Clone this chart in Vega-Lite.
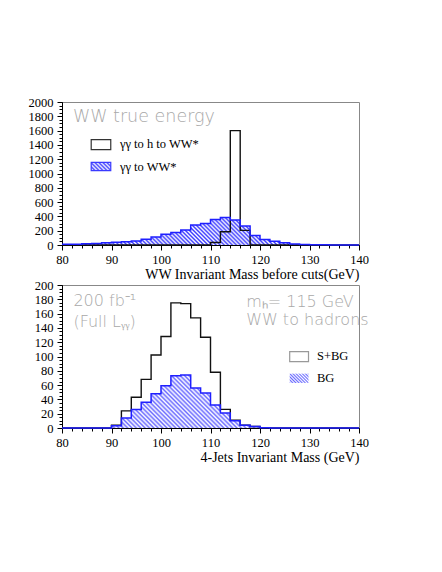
{
  "$schema": "https://vega.github.io/schema/vega-lite/v6.json",
  "padding": {"left": 27, "top": 95, "right": 5, "bottom": 5},
  "background": "white",
  "spacing": -4,
  "config": {
    "view": {"stroke": "#888", "strokeWidth": 1},
    "axis": {"grid": false, "labelFlush": false, "labelOverlap": false, "domainColor": "#000", "tickColor": "#000", "labelColor": "#000", "labelFont": "Liberation Serif", "labelFontSize": 12.5, "titleFont": "Liberation Serif", "titleFontSize": 14, "titleFontWeight": "normal", "titleColor": "#000"}
  },
  "datasets": {
    "top_bg": [{"m":80,"n":12},{"m":82,"n":12},{"m":84,"n":18},{"m":86,"n":20},{"m":88,"n":30},{"m":90,"n":40},{"m":92,"n":45},{"m":94,"n":56},{"m":96,"n":80},{"m":98,"n":112},{"m":100,"n":152},{"m":102,"n":175},{"m":104,"n":210},{"m":106,"n":280},{"m":108,"n":302},{"m":110,"n":355},{"m":112,"n":385},{"m":114,"n":350},{"m":116,"n":265},{"m":118,"n":132},{"m":120,"n":78},{"m":122,"n":52},{"m":124,"n":30},{"m":126,"n":15},{"m":128,"n":7},{"m":130,"n":4},{"m":132,"n":2},{"m":134,"n":0},{"m":136,"n":0},{"m":138,"n":0},{"m":140,"n":0}],
    "top_sig": [{"m":80,"n":0},{"m":82,"n":0},{"m":84,"n":0},{"m":86,"n":0},{"m":88,"n":0},{"m":90,"n":0},{"m":92,"n":0},{"m":94,"n":0},{"m":96,"n":0},{"m":98,"n":0},{"m":100,"n":0},{"m":102,"n":0},{"m":104,"n":0},{"m":106,"n":0},{"m":108,"n":0},{"m":110,"n":35},{"m":112,"n":185},{"m":114,"n":1600},{"m":116,"n":205},{"m":118,"n":0},{"m":120,"n":0},{"m":122,"n":0},{"m":124,"n":0},{"m":126,"n":0},{"m":128,"n":0},{"m":130,"n":0},{"m":132,"n":0},{"m":134,"n":0},{"m":136,"n":0},{"m":138,"n":0},{"m":140,"n":0}],
    "bot_sbg": [{"m":80,"n":0},{"m":82,"n":0},{"m":84,"n":0},{"m":86,"n":0},{"m":88,"n":0},{"m":90,"n":4},{"m":92,"n":24},{"m":94,"n":43},{"m":96,"n":68},{"m":98,"n":102},{"m":100,"n":128},{"m":102,"n":175},{"m":104,"n":174},{"m":106,"n":154},{"m":108,"n":127},{"m":110,"n":78},{"m":112,"n":26},{"m":114,"n":11},{"m":116,"n":4},{"m":118,"n":2},{"m":120,"n":0.5},{"m":122,"n":0},{"m":124,"n":0},{"m":126,"n":0},{"m":128,"n":0},{"m":130,"n":0},{"m":132,"n":0},{"m":134,"n":0},{"m":136,"n":0},{"m":138,"n":0},{"m":140,"n":0}],
    "bot_bg": [{"m":80,"n":0},{"m":82,"n":0},{"m":84,"n":0},{"m":86,"n":0},{"m":88,"n":0},{"m":90,"n":3},{"m":92,"n":14},{"m":94,"n":26},{"m":96,"n":36},{"m":98,"n":48},{"m":100,"n":59},{"m":102,"n":73},{"m":104,"n":74},{"m":106,"n":56},{"m":108,"n":49},{"m":110,"n":32},{"m":112,"n":21},{"m":114,"n":10},{"m":116,"n":4},{"m":118,"n":2},{"m":120,"n":0.5},{"m":122,"n":0},{"m":124,"n":0},{"m":126,"n":0},{"m":128,"n":0},{"m":130,"n":0},{"m":132,"n":0},{"m":134,"n":0},{"m":136,"n":0},{"m":138,"n":0},{"m":140,"n":0}],
    "top_leg": [{"k":"sig","x":85.9,"x2":89.85,"y":1333,"y2":1473},{"k":"bg","x":85.9,"x2":89.85,"y":1039,"y2":1155}],
    "top_lab": [{"x":91.7,"y":1357,"t":"γγ to h to WW*"},{"x":91.7,"y":1039,"t":"γγ to WW*"}],
    "top_ann": [{"x":82.2,"y":1724,"t":"WW true energy"}],
    "bot_leg": [{"k":"sbg","x":126,"x2":129.8,"y":92.9,"y2":106.9},{"k":"bg","x":126,"x2":129.8,"y":63,"y2":76}],
    "bot_lab": [{"x":131.5,"y":95,"t":"S+BG"},{"x":131.5,"y":65,"t":"BG"}],
    "bot_ann": [{"x":82.3,"y":170.6,"t":"200 fb⁻¹"},{"x":82.3,"y":141,"t":"(Full Lᵧᵧ)"},{"x":117.2,"y":169,"t":"mₕ= 115 GeV"},{"x":117.2,"y":144,"t":"WW to hadrons"}]
  },
  "vconcat": [
    {
      "width": 297, "height": 143,
      "resolve": {"axis": {"x": "independent", "y": "independent"}},
      "layer": [
        {
          "data": {"name": "top_bg"},
          "mark": {"type": "area", "interpolate": "step-after", "fill": {"gradient": "linear", "x1": 0, "y1": 1, "x2": 1.0833, "y2": 0.8997, "stops": [
            {"offset":0,"color":"#3a3aff"},{"offset":0.00625,"color":"#fff"},{"offset":0.0125,"color":"#3a3aff"},{"offset":0.01875,"color":"#fff"},{"offset":0.025,"color":"#3a3aff"},{"offset":0.03125,"color":"#fff"},{"offset":0.0375,"color":"#3a3aff"},{"offset":0.04375,"color":"#fff"},{"offset":0.05,"color":"#3a3aff"},{"offset":0.05625,"color":"#fff"},{"offset":0.0625,"color":"#3a3aff"},{"offset":0.06875,"color":"#fff"},{"offset":0.075,"color":"#3a3aff"},{"offset":0.08125,"color":"#fff"},{"offset":0.0875,"color":"#3a3aff"},{"offset":0.09375,"color":"#fff"},
            {"offset":0.1,"color":"#3a3aff"},{"offset":0.10625,"color":"#fff"},{"offset":0.1125,"color":"#3a3aff"},{"offset":0.11875,"color":"#fff"},{"offset":0.125,"color":"#3a3aff"},{"offset":0.13125,"color":"#fff"},{"offset":0.1375,"color":"#3a3aff"},{"offset":0.14375,"color":"#fff"},{"offset":0.15,"color":"#3a3aff"},{"offset":0.15625,"color":"#fff"},{"offset":0.1625,"color":"#3a3aff"},{"offset":0.16875,"color":"#fff"},{"offset":0.175,"color":"#3a3aff"},{"offset":0.18125,"color":"#fff"},{"offset":0.1875,"color":"#3a3aff"},{"offset":0.19375,"color":"#fff"},
            {"offset":0.2,"color":"#3a3aff"},{"offset":0.20625,"color":"#fff"},{"offset":0.2125,"color":"#3a3aff"},{"offset":0.21875,"color":"#fff"},{"offset":0.225,"color":"#3a3aff"},{"offset":0.23125,"color":"#fff"},{"offset":0.2375,"color":"#3a3aff"},{"offset":0.24375,"color":"#fff"},{"offset":0.25,"color":"#3a3aff"},{"offset":0.25625,"color":"#fff"},{"offset":0.2625,"color":"#3a3aff"},{"offset":0.26875,"color":"#fff"},{"offset":0.275,"color":"#3a3aff"},{"offset":0.28125,"color":"#fff"},{"offset":0.2875,"color":"#3a3aff"},{"offset":0.29375,"color":"#fff"},
            {"offset":0.3,"color":"#3a3aff"},{"offset":0.30625,"color":"#fff"},{"offset":0.3125,"color":"#3a3aff"},{"offset":0.31875,"color":"#fff"},{"offset":0.325,"color":"#3a3aff"},{"offset":0.33125,"color":"#fff"},{"offset":0.3375,"color":"#3a3aff"},{"offset":0.34375,"color":"#fff"},{"offset":0.35,"color":"#3a3aff"},{"offset":0.35625,"color":"#fff"},{"offset":0.3625,"color":"#3a3aff"},{"offset":0.36875,"color":"#fff"},{"offset":0.375,"color":"#3a3aff"},{"offset":0.38125,"color":"#fff"},{"offset":0.3875,"color":"#3a3aff"},{"offset":0.39375,"color":"#fff"},
            {"offset":0.4,"color":"#3a3aff"},{"offset":0.40625,"color":"#fff"},{"offset":0.4125,"color":"#3a3aff"},{"offset":0.41875,"color":"#fff"},{"offset":0.425,"color":"#3a3aff"},{"offset":0.43125,"color":"#fff"},{"offset":0.4375,"color":"#3a3aff"},{"offset":0.44375,"color":"#fff"},{"offset":0.45,"color":"#3a3aff"},{"offset":0.45625,"color":"#fff"},{"offset":0.4625,"color":"#3a3aff"},{"offset":0.46875,"color":"#fff"},{"offset":0.475,"color":"#3a3aff"},{"offset":0.48125,"color":"#fff"},{"offset":0.4875,"color":"#3a3aff"},{"offset":0.49375,"color":"#fff"},
            {"offset":0.5,"color":"#3a3aff"},{"offset":0.50625,"color":"#fff"},{"offset":0.5125,"color":"#3a3aff"},{"offset":0.51875,"color":"#fff"},{"offset":0.525,"color":"#3a3aff"},{"offset":0.53125,"color":"#fff"},{"offset":0.5375,"color":"#3a3aff"},{"offset":0.54375,"color":"#fff"},{"offset":0.55,"color":"#3a3aff"},{"offset":0.55625,"color":"#fff"},{"offset":0.5625,"color":"#3a3aff"},{"offset":0.56875,"color":"#fff"},{"offset":0.575,"color":"#3a3aff"},{"offset":0.58125,"color":"#fff"},{"offset":0.5875,"color":"#3a3aff"},{"offset":0.59375,"color":"#fff"},
            {"offset":0.6,"color":"#3a3aff"},{"offset":0.60625,"color":"#fff"},{"offset":0.6125,"color":"#3a3aff"},{"offset":0.61875,"color":"#fff"},{"offset":0.625,"color":"#3a3aff"},{"offset":0.63125,"color":"#fff"},{"offset":0.6375,"color":"#3a3aff"},{"offset":0.64375,"color":"#fff"},{"offset":0.65,"color":"#3a3aff"},{"offset":0.65625,"color":"#fff"},{"offset":0.6625,"color":"#3a3aff"},{"offset":0.66875,"color":"#fff"},{"offset":0.675,"color":"#3a3aff"},{"offset":0.68125,"color":"#fff"},{"offset":0.6875,"color":"#3a3aff"},{"offset":0.69375,"color":"#fff"},
            {"offset":0.7,"color":"#3a3aff"},{"offset":0.70625,"color":"#fff"},{"offset":0.7125,"color":"#3a3aff"},{"offset":0.71875,"color":"#fff"},{"offset":0.725,"color":"#3a3aff"},{"offset":0.73125,"color":"#fff"},{"offset":0.7375,"color":"#3a3aff"},{"offset":0.74375,"color":"#fff"},{"offset":0.75,"color":"#3a3aff"},{"offset":0.75625,"color":"#fff"},{"offset":0.7625,"color":"#3a3aff"},{"offset":0.76875,"color":"#fff"},{"offset":0.775,"color":"#3a3aff"},{"offset":0.78125,"color":"#fff"},{"offset":0.7875,"color":"#3a3aff"},{"offset":0.79375,"color":"#fff"},
            {"offset":0.8,"color":"#3a3aff"},{"offset":0.80625,"color":"#fff"},{"offset":0.8125,"color":"#3a3aff"},{"offset":0.81875,"color":"#fff"},{"offset":0.825,"color":"#3a3aff"},{"offset":0.83125,"color":"#fff"},{"offset":0.8375,"color":"#3a3aff"},{"offset":0.84375,"color":"#fff"},{"offset":0.85,"color":"#3a3aff"},{"offset":0.85625,"color":"#fff"},{"offset":0.8625,"color":"#3a3aff"},{"offset":0.86875,"color":"#fff"},{"offset":0.875,"color":"#3a3aff"},{"offset":0.88125,"color":"#fff"},{"offset":0.8875,"color":"#3a3aff"},{"offset":0.89375,"color":"#fff"},
            {"offset":0.9,"color":"#3a3aff"},{"offset":0.90625,"color":"#fff"},{"offset":0.9125,"color":"#3a3aff"},{"offset":0.91875,"color":"#fff"},{"offset":0.925,"color":"#3a3aff"},{"offset":0.93125,"color":"#fff"},{"offset":0.9375,"color":"#3a3aff"},{"offset":0.94375,"color":"#fff"},{"offset":0.95,"color":"#3a3aff"},{"offset":0.95625,"color":"#fff"},{"offset":0.9625,"color":"#3a3aff"},{"offset":0.96875,"color":"#fff"},{"offset":0.975,"color":"#3a3aff"},{"offset":0.98125,"color":"#fff"},{"offset":0.9875,"color":"#3a3aff"},{"offset":0.99375,"color":"#fff"},{"offset":1,"color":"#3a3aff"}
          ]}},
          "encoding": {
            "x": {"field": "m", "type": "quantitative", "scale": {"domain": [80, 140], "nice": false, "zero": false},
                  "axis": {"orient": "bottom", "values": [80,90,100,110,120,130,140], "tickSize": 5, "labelPadding": 3, "title": "WW Invariant Mass before cuts(GeV)", "titleX": 297, "titleY": 33, "titleAlign": "right", "titleBaseline": "alphabetic", "titleAnchor": null}},
            "y": {"field": "n", "type": "quantitative", "scale": {"domain": [0, 2000], "nice": false},
                  "axis": {"orient": "left", "values": [0,200,400,600,800,1000,1200,1400,1600,1800,2000], "format": "d", "tickSize": 5, "labelPadding": 4, "title": null}}
          }
        },
        {
          "data": {"name": "top_sig"},
          "mark": {"type": "line", "interpolate": "step-after", "color": "#111", "strokeWidth": 1.4},
          "encoding": {
            "x": {"field": "m", "type": "quantitative", "axis": {"orient": "bottom", "values": [80,82,84,86,88,90,92,94,96,98,100,102,104,106,108,110,112,114,116,118,120,122,124,126,128,130,132,134,136,138,140], "tickSize": 3, "labels": false, "domain": false, "title": null}},
            "y": {"field": "n", "type": "quantitative", "axis": {"orient": "left", "values": [0,50,100,150,200,250,300,350,400,450,500,550,600,650,700,750,800,850,900,950,1000,1050,1100,1150,1200,1250,1300,1350,1400,1450,1500,1550,1600,1650,1700,1750,1800,1850,1900,1950,2000], "tickSize": 3, "labels": false, "domain": false, "title": null}}
          }
        },
        {
          "data": {"name": "top_bg"},
          "mark": {"type": "line", "interpolate": "step-after", "color": "#1f1fff", "strokeWidth": 1.5},
          "encoding": {
            "x": {"field": "m", "type": "quantitative", "axis": null},
            "y": {"field": "n", "type": "quantitative", "axis": null}
          }
        },
        {
          "data": {"name": "top_leg"},
          "transform": [{"filter": "datum.k == 'sig'"}],
          "mark": {"type": "rect", "fill": "white", "stroke": "#333", "strokeWidth": 1.2},
          "encoding": {
            "x": {"field": "x", "type": "quantitative", "axis": null}, "x2": {"field": "x2"},
            "y": {"field": "y", "type": "quantitative", "axis": null}, "y2": {"field": "y2"}
          }
        },
        {
          "data": {"name": "top_leg"},
          "transform": [{"filter": "datum.k == 'bg'"}],
          "mark": {"type": "rect", "stroke": "#3a3aff", "strokeWidth": 1.2, "fill": {"gradient": "linear", "x1": 0, "y1": 1, "x2": 1.207, "y2": 0.4863, "stops": [
            {"offset":0,"color":"#3a3aff"},{"offset":0.0714,"color":"#fff"},{"offset":0.1429,"color":"#3a3aff"},{"offset":0.2143,"color":"#fff"},{"offset":0.2857,"color":"#3a3aff"},{"offset":0.3571,"color":"#fff"},{"offset":0.4286,"color":"#3a3aff"},{"offset":0.5,"color":"#fff"},{"offset":0.5714,"color":"#3a3aff"},{"offset":0.6429,"color":"#fff"},{"offset":0.7143,"color":"#3a3aff"},{"offset":0.7857,"color":"#fff"},{"offset":0.8571,"color":"#3a3aff"},{"offset":0.9286,"color":"#fff"},{"offset":1,"color":"#3a3aff"}
          ]}},
          "encoding": {
            "x": {"field": "x", "type": "quantitative", "axis": null}, "x2": {"field": "x2"},
            "y": {"field": "y", "type": "quantitative", "axis": null}, "y2": {"field": "y2"}
          }
        },
        {
          "data": {"name": "top_lab"},
          "mark": {"type": "text", "align": "left", "baseline": "alphabetic", "font": "Liberation Serif", "fontSize": 12.5, "color": "#000"},
          "encoding": {
            "x": {"field": "x", "type": "quantitative", "axis": null},
            "y": {"field": "y", "type": "quantitative", "axis": null},
            "text": {"field": "t"}
          }
        },
        {
          "data": {"name": "top_ann"},
          "mark": {"type": "text", "align": "left", "baseline": "alphabetic", "font": "DejaVu Sans", "fontWeight": 200, "fontSize": 17.5, "color": "#a8a8a8"},
          "encoding": {
            "x": {"field": "x", "type": "quantitative", "axis": null},
            "y": {"field": "y", "type": "quantitative", "axis": null},
            "text": {"field": "t"}
          }
        }
      ]
    },
    {
      "width": 297, "height": 143,
      "resolve": {"axis": {"x": "independent", "y": "independent"}},
      "layer": [
        {
          "data": {"name": "bot_bg"},
          "mark": {"type": "area", "interpolate": "step-after", "fill": {"gradient": "linear", "x1": 0, "y1": 1, "x2": 1.1419, "y2": 0.7966, "stops": [
            {"offset":0,"color":"#6b6bff"},{"offset":0.00625,"color":"#fff"},{"offset":0.0125,"color":"#6b6bff"},{"offset":0.01875,"color":"#fff"},{"offset":0.025,"color":"#6b6bff"},{"offset":0.03125,"color":"#fff"},{"offset":0.0375,"color":"#6b6bff"},{"offset":0.04375,"color":"#fff"},{"offset":0.05,"color":"#6b6bff"},{"offset":0.05625,"color":"#fff"},{"offset":0.0625,"color":"#6b6bff"},{"offset":0.06875,"color":"#fff"},{"offset":0.075,"color":"#6b6bff"},{"offset":0.08125,"color":"#fff"},{"offset":0.0875,"color":"#6b6bff"},{"offset":0.09375,"color":"#fff"},
            {"offset":0.1,"color":"#6b6bff"},{"offset":0.10625,"color":"#fff"},{"offset":0.1125,"color":"#6b6bff"},{"offset":0.11875,"color":"#fff"},{"offset":0.125,"color":"#6b6bff"},{"offset":0.13125,"color":"#fff"},{"offset":0.1375,"color":"#6b6bff"},{"offset":0.14375,"color":"#fff"},{"offset":0.15,"color":"#6b6bff"},{"offset":0.15625,"color":"#fff"},{"offset":0.1625,"color":"#6b6bff"},{"offset":0.16875,"color":"#fff"},{"offset":0.175,"color":"#6b6bff"},{"offset":0.18125,"color":"#fff"},{"offset":0.1875,"color":"#6b6bff"},{"offset":0.19375,"color":"#fff"},
            {"offset":0.2,"color":"#6b6bff"},{"offset":0.20625,"color":"#fff"},{"offset":0.2125,"color":"#6b6bff"},{"offset":0.21875,"color":"#fff"},{"offset":0.225,"color":"#6b6bff"},{"offset":0.23125,"color":"#fff"},{"offset":0.2375,"color":"#6b6bff"},{"offset":0.24375,"color":"#fff"},{"offset":0.25,"color":"#6b6bff"},{"offset":0.25625,"color":"#fff"},{"offset":0.2625,"color":"#6b6bff"},{"offset":0.26875,"color":"#fff"},{"offset":0.275,"color":"#6b6bff"},{"offset":0.28125,"color":"#fff"},{"offset":0.2875,"color":"#6b6bff"},{"offset":0.29375,"color":"#fff"},
            {"offset":0.3,"color":"#6b6bff"},{"offset":0.30625,"color":"#fff"},{"offset":0.3125,"color":"#6b6bff"},{"offset":0.31875,"color":"#fff"},{"offset":0.325,"color":"#6b6bff"},{"offset":0.33125,"color":"#fff"},{"offset":0.3375,"color":"#6b6bff"},{"offset":0.34375,"color":"#fff"},{"offset":0.35,"color":"#6b6bff"},{"offset":0.35625,"color":"#fff"},{"offset":0.3625,"color":"#6b6bff"},{"offset":0.36875,"color":"#fff"},{"offset":0.375,"color":"#6b6bff"},{"offset":0.38125,"color":"#fff"},{"offset":0.3875,"color":"#6b6bff"},{"offset":0.39375,"color":"#fff"},
            {"offset":0.4,"color":"#6b6bff"},{"offset":0.40625,"color":"#fff"},{"offset":0.4125,"color":"#6b6bff"},{"offset":0.41875,"color":"#fff"},{"offset":0.425,"color":"#6b6bff"},{"offset":0.43125,"color":"#fff"},{"offset":0.4375,"color":"#6b6bff"},{"offset":0.44375,"color":"#fff"},{"offset":0.45,"color":"#6b6bff"},{"offset":0.45625,"color":"#fff"},{"offset":0.4625,"color":"#6b6bff"},{"offset":0.46875,"color":"#fff"},{"offset":0.475,"color":"#6b6bff"},{"offset":0.48125,"color":"#fff"},{"offset":0.4875,"color":"#6b6bff"},{"offset":0.49375,"color":"#fff"},
            {"offset":0.5,"color":"#6b6bff"},{"offset":0.50625,"color":"#fff"},{"offset":0.5125,"color":"#6b6bff"},{"offset":0.51875,"color":"#fff"},{"offset":0.525,"color":"#6b6bff"},{"offset":0.53125,"color":"#fff"},{"offset":0.5375,"color":"#6b6bff"},{"offset":0.54375,"color":"#fff"},{"offset":0.55,"color":"#6b6bff"},{"offset":0.55625,"color":"#fff"},{"offset":0.5625,"color":"#6b6bff"},{"offset":0.56875,"color":"#fff"},{"offset":0.575,"color":"#6b6bff"},{"offset":0.58125,"color":"#fff"},{"offset":0.5875,"color":"#6b6bff"},{"offset":0.59375,"color":"#fff"},
            {"offset":0.6,"color":"#6b6bff"},{"offset":0.60625,"color":"#fff"},{"offset":0.6125,"color":"#6b6bff"},{"offset":0.61875,"color":"#fff"},{"offset":0.625,"color":"#6b6bff"},{"offset":0.63125,"color":"#fff"},{"offset":0.6375,"color":"#6b6bff"},{"offset":0.64375,"color":"#fff"},{"offset":0.65,"color":"#6b6bff"},{"offset":0.65625,"color":"#fff"},{"offset":0.6625,"color":"#6b6bff"},{"offset":0.66875,"color":"#fff"},{"offset":0.675,"color":"#6b6bff"},{"offset":0.68125,"color":"#fff"},{"offset":0.6875,"color":"#6b6bff"},{"offset":0.69375,"color":"#fff"},
            {"offset":0.7,"color":"#6b6bff"},{"offset":0.70625,"color":"#fff"},{"offset":0.7125,"color":"#6b6bff"},{"offset":0.71875,"color":"#fff"},{"offset":0.725,"color":"#6b6bff"},{"offset":0.73125,"color":"#fff"},{"offset":0.7375,"color":"#6b6bff"},{"offset":0.74375,"color":"#fff"},{"offset":0.75,"color":"#6b6bff"},{"offset":0.75625,"color":"#fff"},{"offset":0.7625,"color":"#6b6bff"},{"offset":0.76875,"color":"#fff"},{"offset":0.775,"color":"#6b6bff"},{"offset":0.78125,"color":"#fff"},{"offset":0.7875,"color":"#6b6bff"},{"offset":0.79375,"color":"#fff"},
            {"offset":0.8,"color":"#6b6bff"},{"offset":0.80625,"color":"#fff"},{"offset":0.8125,"color":"#6b6bff"},{"offset":0.81875,"color":"#fff"},{"offset":0.825,"color":"#6b6bff"},{"offset":0.83125,"color":"#fff"},{"offset":0.8375,"color":"#6b6bff"},{"offset":0.84375,"color":"#fff"},{"offset":0.85,"color":"#6b6bff"},{"offset":0.85625,"color":"#fff"},{"offset":0.8625,"color":"#6b6bff"},{"offset":0.86875,"color":"#fff"},{"offset":0.875,"color":"#6b6bff"},{"offset":0.88125,"color":"#fff"},{"offset":0.8875,"color":"#6b6bff"},{"offset":0.89375,"color":"#fff"},
            {"offset":0.9,"color":"#6b6bff"},{"offset":0.90625,"color":"#fff"},{"offset":0.9125,"color":"#6b6bff"},{"offset":0.91875,"color":"#fff"},{"offset":0.925,"color":"#6b6bff"},{"offset":0.93125,"color":"#fff"},{"offset":0.9375,"color":"#6b6bff"},{"offset":0.94375,"color":"#fff"},{"offset":0.95,"color":"#6b6bff"},{"offset":0.95625,"color":"#fff"},{"offset":0.9625,"color":"#6b6bff"},{"offset":0.96875,"color":"#fff"},{"offset":0.975,"color":"#6b6bff"},{"offset":0.98125,"color":"#fff"},{"offset":0.9875,"color":"#6b6bff"},{"offset":0.99375,"color":"#fff"},{"offset":1,"color":"#6b6bff"}
          ]}},
          "encoding": {
            "x": {"field": "m", "type": "quantitative", "scale": {"domain": [80, 140], "nice": false, "zero": false},
                  "axis": {"orient": "bottom", "values": [80,90,100,110,120,130,140], "tickSize": 5, "labelPadding": 3, "title": "4-Jets Invariant Mass (GeV)", "titleX": 297, "titleY": 33, "titleAlign": "right", "titleBaseline": "alphabetic", "titleAnchor": null}},
            "y": {"field": "n", "type": "quantitative", "scale": {"domain": [0, 200], "nice": false},
                  "axis": {"orient": "left", "values": [0,20,40,60,80,100,120,140,160,180,200], "format": "d", "tickSize": 5, "labelPadding": 4, "title": null}}
          }
        },
        {
          "data": {"name": "bot_sbg"},
          "mark": {"type": "line", "interpolate": "step-after", "color": "#111", "strokeWidth": 1.4},
          "encoding": {
            "x": {"field": "m", "type": "quantitative", "axis": {"orient": "bottom", "values": [80,82,84,86,88,90,92,94,96,98,100,102,104,106,108,110,112,114,116,118,120,122,124,126,128,130,132,134,136,138,140], "tickSize": 3, "labels": false, "domain": false, "title": null}},
            "y": {"field": "n", "type": "quantitative", "axis": {"orient": "left", "values": [0,5,10,15,20,25,30,35,40,45,50,55,60,65,70,75,80,85,90,95,100,105,110,115,120,125,130,135,140,145,150,155,160,165,170,175,180,185,190,195,200], "tickSize": 3, "labels": false, "domain": false, "title": null}}
          }
        },
        {
          "data": {"name": "bot_bg"},
          "mark": {"type": "line", "interpolate": "step-after", "color": "#1f1fff", "strokeWidth": 1.5},
          "encoding": {
            "x": {"field": "m", "type": "quantitative", "axis": null},
            "y": {"field": "n", "type": "quantitative", "axis": null}
          }
        },
        {
          "data": {"name": "bot_leg"},
          "transform": [{"filter": "datum.k == 'sbg'"}],
          "mark": {"type": "rect", "fill": "white", "stroke": "#999", "strokeWidth": 1.2},
          "encoding": {
            "x": {"field": "x", "type": "quantitative", "axis": null}, "x2": {"field": "x2"},
            "y": {"field": "y", "type": "quantitative", "axis": null}, "y2": {"field": "y2"}
          }
        },
        {
          "data": {"name": "bot_leg"},
          "transform": [{"filter": "datum.k == 'bg'"}],
          "mark": {"type": "rect", "fill": {"gradient": "linear", "x1": 0, "y1": 1, "x2": 1.2009, "y2": 0.406, "stops": [
            {"offset":0,"color":"#6b6bff"},{"offset":0.0556,"color":"#fff"},{"offset":0.1111,"color":"#6b6bff"},{"offset":0.1667,"color":"#fff"},{"offset":0.2222,"color":"#6b6bff"},{"offset":0.2778,"color":"#fff"},{"offset":0.3333,"color":"#6b6bff"},{"offset":0.3889,"color":"#fff"},{"offset":0.4444,"color":"#6b6bff"},{"offset":0.5,"color":"#fff"},{"offset":0.5556,"color":"#6b6bff"},{"offset":0.6111,"color":"#fff"},{"offset":0.6667,"color":"#6b6bff"},{"offset":0.7222,"color":"#fff"},{"offset":0.7778,"color":"#6b6bff"},{"offset":0.8333,"color":"#fff"},{"offset":0.8889,"color":"#6b6bff"},{"offset":0.9444,"color":"#fff"},{"offset":1,"color":"#6b6bff"}
          ]}},
          "encoding": {
            "x": {"field": "x", "type": "quantitative", "axis": null}, "x2": {"field": "x2"},
            "y": {"field": "y", "type": "quantitative", "axis": null}, "y2": {"field": "y2"}
          }
        },
        {
          "data": {"name": "bot_lab"},
          "mark": {"type": "text", "align": "left", "baseline": "alphabetic", "font": "Liberation Serif", "fontSize": 12.5, "color": "#000"},
          "encoding": {
            "x": {"field": "x", "type": "quantitative", "axis": null},
            "y": {"field": "y", "type": "quantitative", "axis": null},
            "text": {"field": "t"}
          }
        },
        {
          "data": {"name": "bot_ann"},
          "mark": {"type": "text", "align": "left", "baseline": "alphabetic", "font": "DejaVu Sans", "fontWeight": 200, "fontSize": 16, "color": "#a8a8a8"},
          "encoding": {
            "x": {"field": "x", "type": "quantitative", "axis": null},
            "y": {"field": "y", "type": "quantitative", "axis": null},
            "text": {"field": "t"}
          }
        }
      ]
    }
  ]
}
